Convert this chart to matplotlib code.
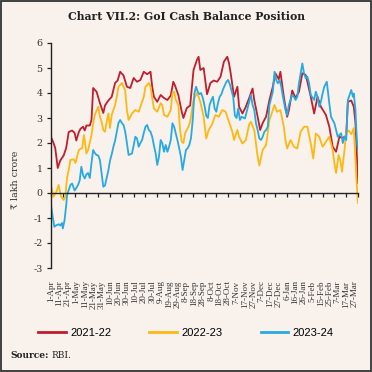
import matplotlib
matplotlib.use("Agg")
import matplotlib.pyplot as plt
from matplotlib.patches import Rectangle

# ---- data (day index from 1-Apr, value in ₹ lakh crore) ----
red_days = [0,3,5,8,11,15,18,21,25,28,30,33,35,38,40,42,46,48,50,54,58,62,64,68,72,76,79,82,86,90,
            94,98,102,106,110,114,118,120,122,126,130,134,138,142,145,147,151,155,157,161,165,169,173,175,177,181,185,189,193,197,
            201,205,209,211,213,217,221,223,227,231,235,239,241,245,248,251,255,259,263,266,270,272,276,280,282,286,290,294,298,302,
            304,308,312,316,320,326,330,334,338,342,346,350,352,356,359,361,364]
red_vals = [2.24,2.0,1.8,1.0,1.3,1.5,1.8,2.44,2.5,2.4,2.1,2.44,2.57,2.65,2.5,2.7,2.7,2.92,4.2,4.05,
            3.6,3.2,3.5,3.7,3.85,4.4,4.5,4.85,4.7,4.25,4.2,4.6,4.45,4.52,4.85,4.75,4.85,4.25,3.85,3.65,
            3.92,3.8,3.72,3.9,4.45,4.3,3.92,3.25,3.0,3.4,3.5,4.92,5.32,5.45,4.92,5.0,3.95,4.4,4.5,4.45,
            4.65,5.25,5.45,5.2,4.8,3.85,4.25,3.45,3.18,3.45,3.8,4.18,3.72,3.05,2.52,2.8,3.05,3.72,4.25,4.79,
            4.55,4.85,3.85,3.05,3.3,4.1,3.8,4.05,4.79,4.72,4.45,3.85,3.18,3.85,3.45,3.12,2.65,1.85,1.65,2.25,
            2.2,2.3,3.65,3.7,3.45,2.8,0.4]

orange_days = [0,3,7,9,12,15,17,19,21,23,27,29,33,37,39,40,42,44,48,50,52,54,56,58,60,62,64,66,68,70,
               72,76,78,80,84,86,88,90,92,96,100,104,106,110,112,114,116,118,120,122,126,130,132,134,138,142,144,146,148,151,
               153,155,157,159,163,165,169,173,175,177,181,184,187,191,195,199,203,207,211,215,217,221,223,227,231,235,237,241,245,247,
               251,255,259,263,265,268,272,276,278,280,284,288,292,296,300,304,308,311,314,318,322,326,330,334,336,338,341,343,345,348,
               350,353,356,359,362,364]
orange_vals = [0.32,-0.15,0.1,0.32,-0.15,-0.28,-0.15,0.6,0.92,1.32,1.35,1.2,1.72,1.8,2.32,2.1,1.58,1.72,2.32,2.79,
               3.12,3.3,3.45,3.05,2.85,2.52,2.45,2.85,3.18,2.6,3.12,3.52,3.85,4.25,4.4,4.25,4.1,3.32,2.92,3.18,
               3.32,3.25,3.45,3.85,4.25,4.32,4.4,4.25,3.8,3.38,3.25,3.6,3.5,3.12,3.05,3.32,4.0,4.05,3.72,3.52,
               2.52,2.05,2.0,2.4,2.65,2.85,3.72,4.0,3.85,3.65,3.05,2.18,2.52,2.75,3.12,3.05,3.32,3.25,2.85,2.45,
               2.12,2.52,2.25,1.98,2.12,2.75,2.85,2.52,1.45,1.1,1.72,1.92,2.92,3.32,3.52,3.25,3.32,2.65,2.12,1.78,
               2.12,1.85,1.78,2.45,2.65,2.65,1.98,1.38,2.38,2.25,1.85,2.05,2.25,1.72,1.2,0.8,1.52,1.3,0.85,1.72,
               2.45,2.5,2.35,2.6,0.65,-0.4]

blue_days = [0,2,4,6,9,11,13,14,16,18,19,21,23,25,28,30,32,34,36,38,40,42,44,46,48,50,52,54,56,58,
             60,62,64,66,68,70,72,74,76,78,80,82,84,86,88,90,92,94,96,98,100,102,104,106,108,110,112,114,116,118,
             120,122,124,126,128,130,132,134,136,138,140,142,144,146,148,150,152,154,156,158,160,162,164,166,168,170,172,174,176,178,
             180,182,184,186,188,190,192,194,196,198,200,202,204,206,208,210,212,214,216,218,220,222,224,226,230,232,235,237,239,241,
             243,245,247,249,251,253,255,257,259,261,263,265,267,269,271,273,275,278,280,282,284,286,288,290,292,294,296,298,300,302,
             304,306,308,312,314,316,318,320,322,324,327,330,332,334,336,338,340,342,344,346,348,350,352,354,356,358,359,361,362,363,364]
blue_vals = [-0.48,-0.95,-1.35,-1.3,-1.25,-1.3,-1.2,-1.42,-1.1,-0.5,-0.1,0.12,0.32,0.38,0.1,0.2,0.32,0.5,1.05,0.72,
             0.58,0.75,0.8,0.6,1.2,1.72,1.6,1.52,1.5,1.32,0.8,0.25,0.3,0.6,0.9,1.3,1.55,1.85,2.1,2.45,
             2.8,2.92,2.8,2.72,2.45,2.0,1.52,1.55,1.58,1.9,2.25,2.18,1.85,2.0,2.12,2.4,2.65,2.72,2.52,2.45,
             2.25,1.9,1.6,1.12,1.45,2.12,1.99,1.65,1.92,1.65,1.85,2.12,2.79,2.65,2.38,2.1,1.79,1.45,0.92,1.32,
             1.72,1.79,1.92,2.2,2.9,3.98,4.25,4.05,3.95,4.0,3.8,3.5,3.1,3.0,3.52,3.7,3.85,3.38,3.25,3.6,
             3.85,3.95,4.15,4.3,4.45,4.52,4.35,4.1,3.85,3.1,3.0,3.38,2.92,3.05,2.98,3.25,3.65,3.92,3.52,3.32,
             2.79,2.52,2.18,2.12,2.25,2.45,2.52,2.65,3.52,3.78,4.05,4.85,4.52,4.39,4.52,4.25,3.85,3.32,3.12,3.52,
             3.72,3.92,3.85,3.72,3.85,4.39,4.79,5.18,4.79,4.59,4.65,4.39,3.92,3.72,4.05,3.85,3.45,3.65,3.98,4.25,
             4.45,3.58,3.05,2.92,2.79,2.52,2.25,2.32,2.39,2.0,2.25,2.12,3.72,3.92,4.12,3.85,3.98,3.32,2.52,2.0,1.72]

series_names = ["2021-22", "2022-23", "2023-24"]
series_colors = ["#BE1E2D", "#FDB913", "#27AAE1"]

label_days = list(range(0, 361, 10))
tick_labels = ["1-Apr","11-Apr","21-Apr","1-May","11-May","21-May","31-May","10-Jun","20-Jun","30-Jun",
               "10-Jul","20-Jul","30-Jul","9-Aug","19-Aug","29-Aug","8-Sep","18-Sep","28-Sep","8-Oct",
               "18-Oct","28-Oct","7-Nov","17-Nov","27-Nov","7-Dec","17-Dec","27-Dec","6-Jan","16-Jan",
               "26-Jan","5-Feb","15-Feb","25-Feb","7-Mar","17-Mar","27-Mar"]
mark_days = list(range(0, 365, 14))
y_ticks = [-3, -2, -1, 0, 1, 2, 3, 4, 5, 6]

title = "Chart VII.2: GoI Cash Balance Position"
y_label = "₹ lakh crore"

# ---- figure ----
BG = "#F8F1EC"
fig = plt.figure(figsize=(3.72, 3.72), dpi=100, facecolor=BG)
ax = fig.add_axes([51/372, 1-268/372, (358-51)/372, (268-43)/372])
ax.set_facecolor(BG)

for d, v, c, n in zip([red_days, orange_days, blue_days],
                      [red_vals, orange_vals, blue_vals],
                      series_colors, series_names):
    ax.plot(d, v, color=c, lw=1.3, label=n, solid_joinstyle="round")

ax.set_xlim(0, 364)
ax.set_ylim(-3, 6)
for s in ["top", "right"]:
    ax.spines[s].set_visible(False)
ax.spines["bottom"].set_position(("data", 0))
ax.spines["left"].set_color("#222222")
ax.spines["bottom"].set_color("#222222")
ax.spines["left"].set_linewidth(1.0)
ax.spines["bottom"].set_linewidth(1.0)

ax.set_xticks(mark_days)
ax.set_xticklabels([])
ax.tick_params(axis="x", direction="out", length=3, width=0.9, color="#222222")
ax.set_yticks(y_ticks)
ax.set_yticklabels([str(t) for t in y_ticks], family="DejaVu Serif", fontsize=6.8, color="#333333")
ax.tick_params(axis="y", direction="out", length=3, width=0.9, color="#222222", pad=3)

sec = ax.secondary_xaxis(0.0)
sec.set_xticks(label_days)
sec.set_xticklabels(tick_labels, rotation=90, family="Liberation Serif", fontsize=6.5, color="#333333")
sec.tick_params(length=0, pad=9)
sec.spines["bottom"].set_visible(False)

fig.text(15/372, 1-180/372, y_label, rotation=90, ha="center", va="center",
         family="DejaVu Serif", fontsize=6.8, color="#333333")
fig.text(0.5, 1-17/372, title, ha="center", va="center", family="DejaVu Serif",
         fontweight="bold", fontsize=7.8, color="#222222")

leg = fig.legend(loc="center", bbox_to_anchor=(186/372, 1-333/372), ncol=3, frameon=False,
                 prop={"family": "Liberation Sans", "size": 8}, handlelength=2.5,
                 columnspacing=3.4, handletextpad=0.4)
for line in leg.get_lines():
    line.set_linewidth(2.0)

fig.text(10/372, 1-356/372, "Source:", ha="left", va="center", family="DejaVu Serif",
         fontweight="bold", fontsize=6.5, color="#222222")
fig.text(51/372, 1-356/372, "RBI.", ha="left", va="center", family="DejaVu Serif",
         fontsize=6.5, color="#222222")

fig.patches.append(Rectangle((0.003, 0.003), 0.994, 0.994, transform=fig.transFigure,
                             fill=False, edgecolor="#333333", lw=1.3))

fig.savefig("out.png", dpi=100, facecolor=BG)
